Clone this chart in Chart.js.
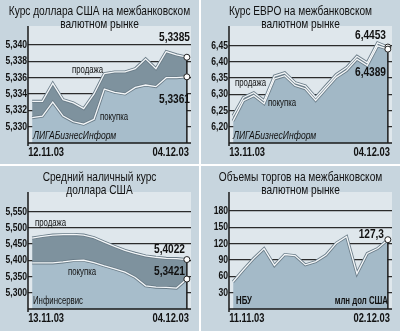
<!DOCTYPE html>
<html>
<head>
<meta charset="utf-8">
<script src="https://cdn.jsdelivr.net/npm/chart.js@4.4.0/dist/chart.umd.min.js"></script>
<style>
  body { margin: 0; background: #fff; }
  #wrap { position: relative; width: 400px; height: 331px; background: #fff; }
  canvas { position: absolute; background: #c7d5de; }
</style>
</head>
<body>
<div id="wrap">
  <canvas id="usdChart" width="199" height="164" style="left:0;top:0"></canvas>
  <canvas id="eurChart" width="199" height="164" style="left:201px;top:0"></canvas>
  <canvas id="cashChart" width="199" height="165" style="left:0;top:166px"></canvas>
  <canvas id="volChart" width="199" height="165" style="left:201px;top:166px"></canvas>
</div>
<script>
// ================= DATA =================
const usdDates = ["12.11.03", "13.11.03", "14.11.03", "17.11.03", "18.11.03", "19.11.03", "20.11.03", "21.11.03",
  "24.11.03", "25.11.03", "26.11.03", "27.11.03", "28.11.03", "01.12.03", "03.12.03", "04.12.03"];
const usdSell = [5.3331, 5.3331, 5.3353, 5.3333, 5.3329, 5.3322, 5.3340, 5.3365, 5.3367, 5.3367, 5.3371, 5.3383, 5.3371, 5.3392, 5.3388, 5.3385];
const usdBuy = [5.3311, 5.3313, 5.3330, 5.3313, 5.3306, 5.3303, 5.3309, 5.3346, 5.3342, 5.3340, 5.3348, 5.3351, 5.3349, 5.3360, 5.3360, 5.3361];
const usdTicks = [5.330, 5.332, 5.334, 5.336, 5.338, 5.340];

const eurDates = ["13.11.03", "14.11.03", "17.11.03", "18.11.03", "19.11.03", "20.11.03", "21.11.03", "24.11.03",
  "25.11.03", "26.11.03", "27.11.03", "28.11.03", "01.12.03", "02.12.03", "03.12.03", "04.12.03"];
const eurSell = [6.234, 6.290, 6.305, 6.280, 6.356, 6.366, 6.336, 6.326, 6.290, 6.326, 6.361, 6.382, 6.417, 6.397, 6.458, 6.4453];
const eurBuy = [6.218, 6.280, 6.296, 6.271, 6.347, 6.357, 6.327, 6.317, 6.281, 6.317, 6.352, 6.373, 6.408, 6.388, 6.449, 6.4389];
const eurTicks = [6.20, 6.25, 6.30, 6.35, 6.40, 6.45];

const cashDates = eurDates;
const cashSell = [5.4684, 5.4735, 5.4776, 5.4786, 5.4796, 5.4776, 5.4694, 5.4561, 5.4429, 5.4306, 5.4214, 5.4133, 5.4092, 5.4061, 5.4051, 5.4022];
const cashBuy = [5.3918, 5.3918, 5.3918, 5.3949, 5.3990, 5.4000, 5.3929, 5.3827, 5.3735, 5.3633, 5.3469, 5.3214, 5.3173, 5.3163, 5.3143, 5.3421];
const cashTicks = [5.300, 5.350, 5.400, 5.450, 5.500, 5.550];

const volDates = ["11.11.03", "12.11.03", "13.11.03", "14.11.03", "17.11.03", "18.11.03", "19.11.03", "20.11.03",
  "21.11.03", "24.11.03", "25.11.03", "26.11.03", "27.11.03", "28.11.03", "01.12.03", "02.12.03"];
const volValues = [50, 72, 93, 111, 80, 100, 98, 81, 87, 99, 121, 133, 65, 102, 111, 127.3];
const volTicks = [30, 60, 90, 120, 150, 180];

// ================= STYLE =================
const FONT = '"Liberation Sans", Arial, sans-serif';
const SX = 0.78; // squeeze text horizontally, the original uses a narrow face
const PLOT_BG = "#dfe7ec";
const LIGHT = "#a7bdcb";
const BAND = "#7e929e";
const OUTLINE = "#6a7c88";
const INK = "#111";

function pts(values) {
  return values.map((v, i) => ({ x: i, y: v }));
}

function endPoint(n) {
  return (c) => (c.dataIndex === n - 1 ? 3 : 0);
}

function narrowText(ctx, text, x, y, font, align) {
  ctx.save();
  ctx.translate(x, y);
  ctx.scale(SX, 1);
  ctx.font = font + " " + FONT;
  ctx.textAlign = align || "left";
  ctx.textBaseline = "middle";
  ctx.fillStyle = INK;
  ctx.fillText(text, 0, 0);
  ctx.restore();
}

// plot background, axes, end marker line, tick labels and all texts
const decoPlugin = {
  id: "deco",
  beforeDraw(chart) {
    const a = chart.chartArea;
    const ctx = chart.ctx;
    ctx.save();
    ctx.fillStyle = PLOT_BG;
    ctx.fillRect(a.left, a.top - 1, a.right - a.left, a.bottom - a.top + 1);
    ctx.restore();
  },
  beforeDatasetsDraw(chart) {
    const a = chart.chartArea;
    const ctx = chart.ctx;
    let top = a.bottom;
    let x = 0;
    chart.data.datasets.forEach((ds, i) => {
      const meta = chart.getDatasetMeta(i);
      const p = meta.data[meta.data.length - 1];
      x = p.x;
      top = Math.min(top, p.y);
    });
    ctx.save();
    ctx.strokeStyle = "#1a1a1a";
    ctx.lineWidth = 1.5;
    ctx.beginPath();
    ctx.moveTo(x, top);
    ctx.lineTo(x, a.bottom);
    ctx.stroke();
    ctx.restore();
  },
  afterDatasetsDraw(chart) {
    const a = chart.chartArea;
    const ctx = chart.ctx;
    ctx.save();
    ctx.strokeStyle = "#1a1a1a";
    ctx.lineWidth = 1.5;
    ctx.beginPath();
    ctx.moveTo(a.left, a.top - 1);
    ctx.lineTo(a.left, a.bottom + 3);
    ctx.moveTo(a.left, a.bottom);
    ctx.lineTo(a.right, a.bottom);
    ctx.stroke();
    ctx.restore();
  },
  afterDraw(chart, args, opts) {
    const ctx = chart.ctx;
    const a = chart.chartArea;
    const xs = chart.scales.x;
    const ys = chart.scales.y;

    opts.title.forEach((t, i) => narrowText(ctx, t, chart.width / 2, 11 + i * 13, "13px", "center"));

    ys.ticks.forEach((t) => {
      narrowText(ctx, opts.fmt(t.value), a.left - 1, ys.getPixelForValue(t.value), "bold 11px", "right");
    });
    const first = xs.ticks[0].value;
    const last = xs.ticks[xs.ticks.length - 1].value;
    narrowText(ctx, opts.dates[first], xs.getPixelForValue(first) - 4, 153, "bold 12px", "left");
    narrowText(ctx, opts.dates[last], xs.getPixelForValue(last) + 2, 153, "bold 12px", "right");

    (opts.notes || []).forEach((n) => narrowText(ctx, n.text, n.x, n.y, n.font, n.align));
  },
};

function makeChart(id, cfg) {
  const canvas = document.getElementById(id);
  const n = cfg.dates.length;
  const H = canvas.height;
  const W = canvas.width;
  return new Chart(canvas, {
    type: "line",
    data: { datasets: cfg.datasets },
    options: {
      responsive: false,
      animation: false,
      layout: { padding: { top: 27, right: W - 191, left: 0, bottom: 0 } },
      plugins: {
        legend: { display: false },
        tooltip: { enabled: false },
        filler: { drawTime: "beforeDatasetsDraw" },
        deco: { title: cfg.title, notes: cfg.notes, fmt: cfg.fmt, dates: cfg.dates },
      },
      scales: {
        x: {
          type: "linear",
          min: -0.4,
          max: n - 1 + 0.4,
          afterBuildTicks: (s) => {
            s.ticks = [{ value: 0 }, { value: n - 1 }];
          },
          afterFit: (s) => {
            s.height = H - 143;
          },
          grid: { display: false },
          border: { display: false },
          ticks: { display: false },
        },
        y: {
          min: cfg.min,
          max: cfg.max,
          afterBuildTicks: (s) => {
            s.ticks = cfg.ticks.map((v) => ({ value: v }));
          },
          afterFit: (s) => {
            s.width = 28;
          },
          grid: { color: "#2b2b2b", lineWidth: 1.3, drawTicks: false },
          border: { display: false },
          ticks: { display: false },
        },
      },
    },
    plugins: [decoPlugin],
  });
}

// two lines with a band between them: outlined copies carry the fills, white copies on top
function bandSets(sell, buy, band, light) {
  const n = sell.length;
  return [
    { data: pts(buy), fill: "start", backgroundColor: light, borderColor: OUTLINE, borderWidth: 3, pointRadius: 0, tension: 0, order: 3 },
    { data: pts(sell), fill: "-1", backgroundColor: band, borderColor: OUTLINE, borderWidth: 3, pointRadius: 0, tension: 0, order: 3 },
    { data: pts(buy), fill: false, borderColor: "#f4f7f9", borderWidth: 1.3, pointRadius: endPoint(n),
      pointBackgroundColor: "#fff", pointBorderColor: "#222", pointBorderWidth: 1, tension: 0, order: 1 },
    { data: pts(sell), fill: false, borderColor: "#f4f7f9", borderWidth: 1.3, pointRadius: endPoint(n),
      pointBackgroundColor: "#fff", pointBorderColor: "#222", pointBorderWidth: 1, tension: 0, order: 1 },
  ];
}

function comma(v, d) {
  return v.toFixed(d).replace(".", ",");
}

// ================= USD INTERBANK =================
makeChart("usdChart", {
  dates: usdDates,
  title: ["Курс доллара США на межбанковском", "валютном рынке"],
  min: 5.328,
  max: 5.3422,
  ticks: usdTicks,
  fmt: (v) => comma(v, 3),
  datasets: bandSets(usdSell, usdBuy, BAND, LIGHT),
  notes: [
    { text: comma(usdSell[usdSell.length - 1], 4), x: 190, y: 37, font: "bold 13px", align: "right" },
    { text: comma(usdBuy[usdBuy.length - 1], 4), x: 190, y: 99, font: "bold 13px", align: "right" },
    { text: "продажа", x: 72, y: 70, font: "10px" },
    { text: "покупка", x: 100, y: 117, font: "10px" },
    { text: "ЛИГАБизнесИнформ", x: 33, y: 136, font: "italic 11px" },
  ],
});

// ================= EUR INTERBANK =================
makeChart("eurChart", {
  dates: eurDates,
  title: ["Курс ЕВРО на межбанковском", "валютном рынке"],
  min: 6.15,
  max: 6.507,
  ticks: eurTicks,
  fmt: (v) => comma(v, 2),
  datasets: bandSets(eurSell, eurBuy, "#8c9ca7", "#a2b8c6"),
  notes: [
    { text: comma(eurSell[eurSell.length - 1], 4), x: 185, y: 35, font: "bold 13px", align: "right" },
    { text: comma(eurBuy[eurBuy.length - 1], 4), x: 185, y: 72, font: "bold 13px", align: "right" },
    { text: "продажа", x: 34, y: 83, font: "10px" },
    { text: "покупка", x: 67, y: 103, font: "10px" },
    { text: "ЛИГАБизнесИнформ", x: 32, y: 136, font: "italic 11px" },
  ],
});

// ================= CASH USD =================
makeChart("cashChart", {
  dates: cashDates,
  title: ["Средний наличный курс", "доллара США"],
  min: 5.25,
  max: 5.607,
  ticks: cashTicks,
  fmt: (v) => comma(v, 3),
  datasets: bandSets(cashSell, cashBuy, BAND, LIGHT),
  notes: [
    { text: comma(cashSell[cashSell.length - 1], 4), x: 185, y: 83, font: "bold 13px", align: "right" },
    { text: comma(cashBuy[cashBuy.length - 1], 4), x: 185, y: 105, font: "bold 13px", align: "right" },
    { text: "продажа", x: 35, y: 57, font: "10px" },
    { text: "покупка", x: 68, y: 106, font: "10px" },
    { text: "Инфинсервис", x: 33, y: 135, font: "10px" },
  ],
});

// ================= VOLUMES =================
makeChart("volChart", {
  dates: volDates,
  title: ["Объемы торгов на межбанковском", "валютном рынке"],
  min: 0,
  max: 213,
  ticks: volTicks,
  fmt: (v) => String(v),
  datasets: [
    { data: pts(volValues), fill: "start", backgroundColor: "#a4bac8", borderColor: OUTLINE, borderWidth: 3, pointRadius: 0, tension: 0, order: 3 },
    { data: pts(volValues), fill: false, borderColor: "#f4f7f9", borderWidth: 1.3, pointRadius: endPoint(volValues.length),
      pointBackgroundColor: "#fff", pointBorderColor: "#222", pointBorderWidth: 1, tension: 0, order: 1 },
  ],
  notes: [
    { text: comma(volValues[volValues.length - 1], 1), x: 183, y: 68, font: "bold 13px", align: "right" },
    { text: "НБУ", x: 35, y: 135, font: "bold 10px" },
    { text: "млн дол США", x: 187, y: 135, font: "bold 10px", align: "right" },
  ],
});
</script>
</body>
</html>
